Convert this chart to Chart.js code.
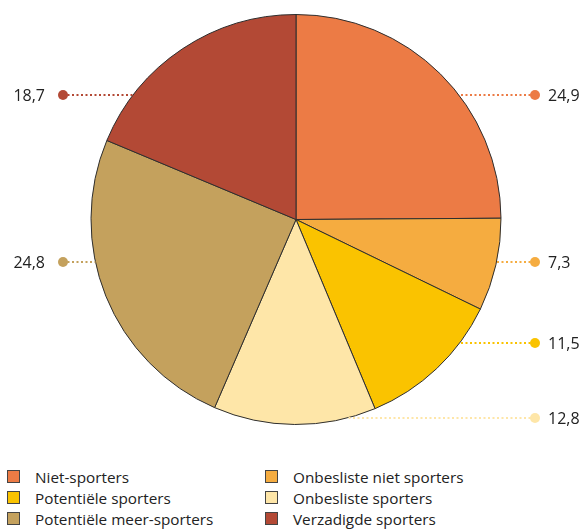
<!DOCTYPE html>
<html>
<head>
<meta charset="utf-8">
<script src="https://cdn.jsdelivr.net/npm/chart.js@4.4.0/dist/chart.umd.min.js"></script>
<style>
  html, body { margin: 0; padding: 0; background: #fff; }
  #wrap { position: relative; width: 586px; height: 532px; font-family: "Open Sans", sans-serif; color: #222; }
  #chartBox { position: absolute; left: 0; top: 0; width: 586px; height: 440px; }
  #legend { position: absolute; left: 7px; top: 466px; display: grid; grid-template-columns: 258px 300px; row-gap: 0px; }
  .item { display: flex; align-items: center; height: 21px; font-size: 15.3px; white-space: nowrap; }
  .sw { width: 13px; height: 13px; border: 1px solid #444; margin-right: 15px; box-sizing: border-box; }
</style>
</head>
<body>
<div id="wrap">
  <div id="chartBox"><canvas id="c"></canvas></div>
  <div id="legend"></div>
</div>
<script>
// ---- data ----
const categories = ["Niet-sporters", "Onbesliste niet sporters", "Potentiële sporters", "Onbesliste sporters", "Potentiële meer-sporters", "Verzadigde sporters"];
const values = [24.9, 7.3, 11.5, 12.8, 24.8, 18.7];
const valueLabels = ["24,9", "7,3", "11,5", "12,8", "24,8", "18,7"];

// ---- styles / annotation layout ----
const colors = ["#EC7B45", "#F5AC40", "#FAC300", "#FEE6A8", "#C4A15D", "#B34935"];
const labelSide = ["right", "right", "right", "right", "left", "left"];
const labelRowY = [95, 262, 343, 418, 262, 95];

const leaderPlugin = {
  id: 'leaders',
  afterDatasetsDraw(chart) {
    const ctx = chart.ctx;
    const meta = chart.getDatasetMeta(0);
    meta.data.forEach((arc, i) => {
      const cx = arc.x, cy = arc.y, r = arc.outerRadius;
      const y = labelRowY[i];
      const dy = y - cy;
      const half = Math.sqrt(Math.max(r * r - dy * dy, 0));
      const right = labelSide[i] === 'right';
      const edgeX = right ? cx + half : cx - half;
      const dotX = right ? 535 : 63;
      ctx.save();
      ctx.strokeStyle = colors[i];
      ctx.lineWidth = 2;
      ctx.setLineDash([2, 2.5]);
      ctx.beginPath();
      ctx.moveTo(dotX, y);
      ctx.lineTo(edgeX, y);
      ctx.stroke();
      ctx.setLineDash([]);
      ctx.fillStyle = colors[i];
      ctx.beginPath();
      ctx.arc(dotX, y, 5, 0, Math.PI * 2);
      ctx.fill();
      ctx.fillStyle = '#222';
      ctx.font = '16px "Open Sans", sans-serif';
      ctx.textBaseline = 'middle';
      if (right) {
        ctx.textAlign = 'left';
        ctx.fillText(valueLabels[i], dotX + 13, y + 1);
      } else {
        ctx.textAlign = 'right';
        ctx.fillText(valueLabels[i], dotX - 18, y + 1);
      }
      ctx.restore();
    });
  }
};

new Chart(document.getElementById('c'), {
  type: 'pie',
  data: {
    labels: categories,
    datasets: [{
      data: values,
      backgroundColor: colors,
      borderColor: '#2e2e2e',
      borderWidth: 1
    }]
  },
  options: {
    responsive: true,
    maintainAspectRatio: false,
    animation: false,
    layout: { padding: { left: 6, right: 0, top: 14, bottom: 15 } },
    plugins: { legend: { display: false }, tooltip: { enabled: false } }
  },
  plugins: [leaderPlugin]
});

const legend = document.getElementById('legend');
categories.forEach((name, i) => {
  const item = document.createElement('div');
  item.className = 'item';
  const sw = document.createElement('span');
  sw.className = 'sw';
  sw.style.background = colors[i];
  const t = document.createElement('span');
  t.textContent = name;
  item.appendChild(sw);
  item.appendChild(t);
  legend.appendChild(item);
});
</script>
</body>
</html>
